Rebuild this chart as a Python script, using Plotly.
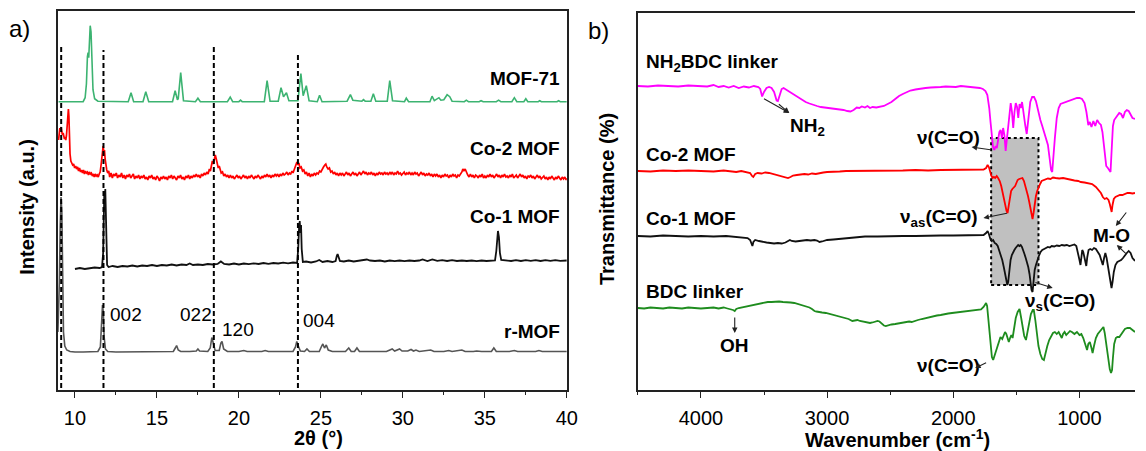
import plotly.graph_objects as go

# ---------------- Panel a: XRD patterns (2theta in degrees, relative intensity) ----------------
MOF71 = [
    (9.0, 0), (10.5, 0), (10.62, 4), (10.7, 18), (10.76, 45), (10.8, 49), (10.84, 44), (10.88, 65),
    (10.93, 76), (10.98, 70), (11.03, 40), (11.1, 12), (11.2, 3), (11.4, 0.5), (13.25, 0), (13.42, 9),
    (13.58, 0), (14.15, 0), (14.32, 10), (14.5, 0), (15.95, 0), (16.11, 11), (16.25, 2), (16.3, 3),
    (16.45, 29), (16.62, 1), (17.35, 0), (17.5, 3.5), (17.65, 0), (19.3, 0), (19.47, 4.5), (19.62, 0),
    (20.0, 0), (20.1, 1.5), (20.2, 0), (21.55, 0), (21.72, 21), (21.9, 0.5), (22.4, 0.5), (22.57, 14),
    (22.72, 5), (22.9, 9), (23.05, 1), (23.6, 1), (23.78, 28), (23.92, 6), (24.11, 16), (24.28, 1),
    (24.78, 0), (24.92, 6.5), (25.07, 0), (26.6, 0.5), (26.8, 7), (26.95, 1.5), (27.5, 0.5), (27.6, 2),
    (27.7, 0.5), (28.05, 0.5), (28.2, 8), (28.35, 0.5), (29.05, 0.5), (29.2, 21), (29.37, 1), (30.1, 0),
    (30.21, 3.5), (30.35, 0), (31.65, 0), (31.78, 5.5), (31.92, 1), (32.2, 4), (32.32, 1.5), (32.5, 2),
    (32.7, 7), (32.86, 5), (33.0, 0.5), (33.75, 0), (33.87, 1.5), (34.0, 0), (34.65, 0), (34.77, 1),
    (34.9, 0), (35.7, 0), (35.84, 1.5), (35.98, 0), (36.65, 0), (36.8, 4), (36.95, 0), (37.38, 0),
    (37.5, 3), (37.62, 0), (38.25, 0), (38.35, 1), (38.45, 0), (39.4, 0), (39.5, 1), (39.6, 0), (40.0, 0),
]

CO2_XRD = [
    (9.0, 36), (9.04, 44), (9.08, 48), (9.12, 46), (9.16, 49), (9.2, 44), (9.24, 41), (9.28, 43),
    (9.32, 38), (9.36, 37), (9.4, 39), (9.44, 36), (9.48, 40), (9.52, 47), (9.56, 60), (9.6, 67),
    (9.63, 60), (9.66, 38), (9.7, 22), (9.75, 15), (9.8, 13), (9.86, 11), (9.92, 12), (9.98, 8),
    (10.04, 10), (10.1, 7), (10.16, 9), (10.22, 5), (10.28, 8), (10.34, 4), (10.4, 6), (10.46, 3),
    (10.52, 6), (10.58, 2), (10.64, 5), (10.7, 3), (10.76, 4), (10.82, 1), (10.88, 4), (10.94, 2),
    (11.0, 3), (11.06, 0), (11.12, 2), (11.18, -1), (11.24, 2), (11.3, 0), (11.36, 1), (11.42, -1),
    (11.48, 2), (11.54, 4), (11.6, 12), (11.64, 20), (11.68, 28), (11.72, 30), (11.76, 24), (11.8, 26),
    (11.84, 17), (11.88, 10), (11.94, 6), (12.0, 3), (12.06, 5), (12.12, -1), (12.2, 3), (12.28, -2),
    (12.36, 2), (12.44, 0), (12.52, 3), (12.6, -2), (12.68, 1), (12.76, -1), (12.84, 3), (12.92, -2),
    (13.0, 1), (13.08, -3), (13.16, 1), (13.24, -1), (13.32, 2), (13.4, -2), (13.48, 0), (13.56, 2),
    (13.64, -3), (13.72, 0), (13.8, -2), (13.88, 1), (13.96, -3), (14.04, 0), (14.12, -2), (14.2, 1),
    (14.28, -3), (14.36, -1), (14.44, -4), (14.52, 0), (14.6, -2), (14.68, 1), (14.76, -3), (14.84, -1),
    (14.92, -4), (15.0, 0), (15.08, -2), (15.16, -5), (15.24, -1), (15.32, -3), (15.4, 0), (15.48, -3),
    (15.56, -1), (15.64, -4), (15.72, 0), (15.8, -2), (15.88, 1), (15.96, -3), (16.04, 0), (16.12, -2),
    (16.2, -4), (16.28, 0), (16.36, -2), (16.44, 1), (16.52, -3), (16.6, -1), (16.68, -4), (16.76, 0),
    (16.84, -2), (16.92, 1), (17.0, -3), (17.08, 0), (17.16, -2), (17.24, 1), (17.32, -1), (17.4, 2),
    (17.48, -1), (17.56, 1), (17.64, -2), (17.72, 2), (17.8, 0), (17.88, 3), (17.96, 1), (18.04, 4),
    (18.12, 2), (18.2, 7), (18.26, 5), (18.32, 10), (18.38, 15), (18.44, 12), (18.5, 19), (18.56, 21),
    (18.62, 17), (18.68, 13), (18.74, 8), (18.8, 10), (18.86, 5), (18.92, 3), (19.0, 4), (19.08, 0),
    (19.16, 2), (19.24, -1), (19.32, 1), (19.4, -2), (19.48, 1), (19.56, -2), (19.64, 0), (19.72, -3),
    (19.8, -1), (19.88, 1), (19.96, -2), (20.04, 0), (20.12, -3), (20.2, -1), (20.28, 1), (20.36, -2),
    (20.44, 0), (20.52, -3), (20.6, 0), (20.68, -2), (20.76, 1), (20.84, -1), (20.92, -3), (21.0, 0),
    (21.08, -2), (21.16, 1), (21.24, -1), (21.32, -3), (21.4, 0), (21.48, -2), (21.56, 1), (21.64, -1),
    (21.72, 2), (21.8, -1), (21.88, 1), (21.96, -2), (22.04, 1), (22.12, -1), (22.2, 2), (22.28, 0),
    (22.36, 2), (22.44, -1), (22.52, 2), (22.6, 0), (22.68, 3), (22.76, 1), (22.84, 2), (22.92, 4),
    (23.0, 1), (23.08, 3), (23.16, 2), (23.24, 5), (23.3, 3), (23.36, 6), (23.42, 9), (23.48, 12),
    (23.54, 14), (23.6, 11), (23.66, 13), (23.72, 8), (23.8, 9), (23.88, 5), (23.96, 6), (24.04, 2),
    (24.12, 4), (24.2, 0), (24.28, 3), (24.36, -1), (24.44, 2), (24.52, 0), (24.6, 3), (24.68, 1),
    (24.76, 3), (24.84, 2), (24.92, 5), (25.0, 4), (25.08, 7), (25.16, 9), (25.24, 11), (25.3, 12),
    (25.36, 9), (25.44, 7), (25.52, 8), (25.6, 4), (25.68, 5), (25.76, 2), (25.84, 4), (25.92, 1),
    (26.0, 3), (26.08, 0), (26.16, 3), (26.24, 1), (26.32, 3), (26.4, 0), (26.48, 2), (26.56, 4),
    (26.64, 1), (26.72, 3), (26.8, 0), (26.88, 2), (26.96, 4), (27.04, 1), (27.12, 3), (27.2, 0),
    (27.28, 2), (27.36, 4), (27.44, 1), (27.52, 3), (27.6, 5), (27.68, 2), (27.76, 4), (27.84, 1),
    (27.92, 3), (28.0, 2), (28.08, 4), (28.16, 1), (28.24, 3), (28.32, 0), (28.4, 3), (28.48, 1),
    (28.56, 4), (28.64, 2), (28.72, 3), (28.8, 1), (28.88, 4), (28.96, 2), (29.04, 3), (29.12, 1),
    (29.2, 4), (29.28, 2), (29.36, 4), (29.44, 1), (29.52, 3), (29.6, 2), (29.68, 5), (29.76, 2),
    (29.84, 3), (29.92, 1), (30.0, 3), (30.08, 4), (30.16, 1), (30.24, 3), (30.32, 2), (30.4, 4),
    (30.48, 1), (30.56, 3), (30.64, 1), (30.72, 4), (30.8, 2), (30.88, 3), (30.96, 0), (31.04, 2),
    (31.12, 4), (31.2, 1), (31.28, 3), (31.36, 0), (31.44, 2), (31.52, 1), (31.6, 3), (31.68, 0),
    (31.76, 2), (31.84, -1), (31.92, 2), (32.0, 0), (32.08, 2), (32.16, -1), (32.24, 1), (32.32, -2),
    (32.4, 1), (32.48, -1), (32.56, 2), (32.64, 0), (32.72, 1), (32.8, -2), (32.88, 1), (32.96, -1),
    (33.04, 2), (33.12, 0), (33.2, 1), (33.28, -2), (33.36, 1), (33.44, 0), (33.52, 2), (33.6, 4),
    (33.66, 7), (33.72, 5), (33.8, 7), (33.88, 3), (33.96, 1), (34.04, -1), (34.12, 2), (34.2, -1),
    (34.28, 1), (34.36, -2), (34.44, 1), (34.52, 0), (34.6, -2), (34.68, 1), (34.76, -1), (34.84, 2),
    (34.92, -2), (35.0, 0), (35.08, -2), (35.16, 1), (35.24, -1), (35.32, 2), (35.4, -1), (35.48, 1),
    (35.56, -2), (35.64, 0), (35.72, 2), (35.8, -1), (35.88, 1), (35.96, -2), (36.04, 1), (36.12, -1),
    (36.2, 2), (36.28, -1), (36.36, 0), (36.44, -2), (36.52, 1), (36.6, -1), (36.68, 2), (36.76, -2),
    (36.84, 0), (36.92, 1), (37.0, -2), (37.08, 0), (37.16, 2), (37.24, -1), (37.32, 1), (37.4, -2),
    (37.48, 0), (37.56, -3), (37.64, 0), (37.72, -1), (37.8, 1), (37.88, -2), (37.96, 0), (38.04, -3),
    (38.12, -1), (38.2, 1), (38.28, -2), (38.36, 0), (38.44, -3), (38.52, -1), (38.6, 0), (38.68, -3),
    (38.76, -1), (38.84, -4), (38.92, -1), (39.0, -3), (39.08, 0), (39.16, -2), (39.24, -4), (39.32, -1),
    (39.4, -3), (39.48, 0), (39.56, -2), (39.64, -4), (39.72, -1), (39.8, -3), (39.88, -1), (39.96, -4),
    (40.0, -2),
]

CO1_XRD = [
    (10.0, -6), (10.3, -5), (10.6, -6), (10.9, -5), (11.2, -4.5), (11.5, -5), (11.65, -4), (11.72, 10),
    (11.76, 45), (11.79, 72), (11.82, 60), (11.85, 74), (11.88, 50), (11.91, 12), (11.96, -2), (12.05, -4),
    (12.3, -3), (12.6, -4), (12.9, -3), (13.2, -3.5), (13.5, -2.5), (13.8, -3.5), (14.1, -2.5), (14.4, -3),
    (14.7, -2), (15.0, -3), (15.3, -2), (15.6, -2.5), (15.9, -1.5), (16.2, -2.5), (16.5, -1.5), (16.8, -2),
    (17.0, -0.5), (17.2, -2), (17.5, -1.5), (17.8, -2), (18.1, -1), (18.4, -1.5), (18.7, -1), (18.9, 1.5),
    (19.1, -1), (19.4, -1.5), (19.7, -0.5), (20.0, -1.5), (20.3, -0.5), (20.6, -1.2), (20.9, -0.3),
    (21.2, -1), (21.5, 0), (21.8, -0.8), (22.1, 0), (22.4, -0.5), (22.7, 0.3), (23.0, -0.3), (23.3, 0.5),
    (23.55, 0), (23.62, 15), (23.67, 36), (23.71, 42), (23.75, 30), (23.79, 38), (23.83, 14), (23.9, 1),
    (24.1, 1.5), (24.4, 0.5), (24.7, 1.5), (24.9, 3), (25.1, 1), (25.4, 2), (25.7, 1), (25.9, 2),
    (25.97, 7), (26.02, 9), (26.08, 6), (26.16, 2), (26.4, 1.5), (26.7, 2.5), (27.0, 1.5), (27.3, 2),
    (27.6, 2.5), (27.8, 3.5), (28.0, 2.5), (28.3, 2), (28.6, 2.5), (28.9, 1.5), (29.2, 2.5), (29.5, 1.8),
    (29.8, 2.5), (30.1, 1.8), (30.4, 2.5), (30.7, 2), (31.0, 2.5), (31.2, 3.5), (31.5, 2), (31.8, 3.5),
    (32.1, 2.2), (32.4, 2.8), (32.7, 2), (33.0, 2.8), (33.3, 2), (33.6, 2.5), (33.9, 2), (34.2, 2.5),
    (34.5, 1.8), (34.8, 2.5), (35.1, 2), (35.4, 2.5), (35.62, 2.5), (35.7, 12), (35.76, 28), (35.8, 32),
    (35.86, 26), (35.92, 10), (36.0, 3), (36.3, 2.5), (36.6, 2), (36.9, 2.8), (37.2, 2), (37.5, 2.8),
    (37.8, 2.2), (38.1, 2.8), (38.4, 2), (38.7, 2.8), (39.0, 2.2), (39.3, 2.8), (39.6, 2.2), (40.0, 2.5),
]

RMOF_XRD = [
    (8.96, 20), (9.05, 70), (9.1, 125), (9.15, 155), (9.2, 140), (9.25, 65), (9.3, 20), (9.38, 6),
    (9.5, 2), (9.7, 0.5), (10.0, 0), (10.5, 0), (11.0, 0), (11.4, 0.5), (11.55, 5), (11.63, 25),
    (11.68, 47), (11.73, 40), (11.78, 15), (11.86, 3), (12.0, 0.5), (12.5, 0), (13.0, 0), (13.5, 0),
    (14.0, 0), (14.6, 0.5), (15.2, 0.5), (16.0, 0.5), (16.12, 4), (16.2, 6.5), (16.3, 2), (16.45, 0.5),
    (17.0, 0.5), (17.4, 1), (17.5, 3), (17.6, 1), (18.1, 0.5), (18.25, 4), (18.35, 14.5), (18.45, 8),
    (18.55, 1.5), (18.8, 1.5), (18.9, 9), (18.97, 10.5), (19.07, 3), (19.3, 0.5), (20.0, 0.5),
    (20.3, 1.5), (20.5, 0.5), (21.4, 0.5), (21.6, 1.5), (21.8, 0.5), (23.3, 0.5), (23.45, 5),
    (23.53, 10.5), (23.62, 6), (23.75, 1), (24.0, 0.5), (24.15, 3), (24.3, 0.5), (24.9, 0.5), (25.05, 6),
    (25.12, 8), (25.22, 4), (25.33, 7), (25.45, 2), (25.7, 0.5), (26.5, 0.5), (26.7, 4), (26.85, 0.5),
    (27.05, 0.5), (27.2, 4), (27.35, 0.5), (28.5, 0.5), (29.0, 0.5), (29.35, 3), (29.5, 1), (29.8, 3),
    (29.95, 1), (30.3, 1), (30.5, 2.5), (30.65, 1), (30.8, 2), (31.0, 0.5), (31.7, 2), (31.9, 0.5),
    (32.5, 0.5), (32.8, 1.5), (33.0, 0.5), (33.6, 2), (33.8, 0.5), (34.3, 0.5), (34.5, 1), (34.8, 0.5),
    (35.4, 0.5), (35.55, 4), (35.7, 0.5), (36.5, 0.5), (36.8, 1.5), (37.0, 0.5), (38.1, 0.5), (38.3, 1.5),
    (38.5, 0.5), (39.3, 0.5), (40.0, 0.5),
]

# reference reflections marked by dashed guides, and the Miller indices shown (2theta, height above r-MOF baseline)
GUIDE_TTH = [9.16, 11.74, 18.47, 23.6]
GUIDE_TOP = [343, 340, 343, 338]
HKL_LABELS = [("002", 12.0, 38), ("022", 16.27, 38), ("120", 18.85, 23), ("004", 23.78, 32)]

# stacking offsets of the XRD patterns
XRD_OFFSET = {"MOF-71": 288.3, "Co-2 MOF": 214, "Co-1 MOF": 127, "r-MOF": 38}

# ---------------- Panel b: FTIR spectra (wavenumber, absorption depth below plateau) ----------------
NH2BDC_IR = [
    (4500, 0), (4420, 0.5), (4340, -0.5), (4260, 0), (4180, 0.5), (4100, -0.5), (4020, 0), (3950, 0.5),
    (3900, -1), (3860, 1), (3820, 0), (3780, 1.5), (3740, 0), (3700, 2), (3660, 0.5), (3620, 1.5),
    (3580, 0), (3545, 1), (3530, 3), (3515, 10.5), (3500, 6), (3480, 2), (3460, 1), (3440, 2), (3420, 6),
    (3400, 14.5), (3390, 15), (3378, 10), (3360, 3), (3345, 2), (3320, 4), (3290, 7), (3260, 9),
    (3230, 12), (3200, 14), (3170, 16), (3140, 17.5), (3110, 19), (3080, 20), (3050, 21), (3020, 21.5),
    (2990, 22), (2960, 22), (2930, 23), (2900, 23.5), (2870, 24), (2840, 25), (2815, 25.5), (2790, 24),
    (2765, 21.5), (2745, 22), (2725, 20.5), (2700, 21.5), (2680, 20), (2660, 22), (2640, 21),
    (2610, 21.5), (2580, 21), (2550, 20), (2520, 18), (2490, 16), (2460, 13), (2430, 10), (2400, 8),
    (2370, 6), (2340, 4.5), (2300, 3.5), (2260, 2.5), (2220, 2), (2180, 1.5), (2140, 1.5), (2100, 1),
    (2060, 0.5), (2020, 0.5), (1980, 1), (1940, 0), (1900, 0.5), (1860, 1), (1820, 1.5), (1790, 2),
    (1765, 3), (1745, 5), (1730, 9), (1715, 22), (1705, 36), (1695, 52), (1685, 61), (1675, 64),
    (1665, 60), (1655, 62), (1645, 55), (1635, 46), (1625, 44), (1615, 52), (1605, 42), (1595, 49),
    (1585, 65), (1575, 52), (1565, 36), (1555, 29), (1545, 17), (1535, 26), (1525, 42), (1515, 26),
    (1505, 17), (1495, 21), (1485, 32), (1475, 18), (1465, 22), (1455, 16), (1445, 27), (1430, 39),
    (1418, 48), (1405, 34), (1390, 16), (1375, 11), (1360, 11), (1345, 15), (1330, 24), (1310, 34),
    (1295, 40), (1280, 46), (1265, 53), (1250, 59), (1240, 69), (1232, 80), (1225, 84), (1216, 86),
    (1205, 64), (1195, 52), (1180, 32), (1165, 22), (1150, 18), (1130, 17), (1110, 16), (1090, 15),
    (1065, 14), (1040, 13), (1020, 12), (1000, 12), (980, 13), (960, 17), (945, 26), (930, 39),
    (918, 36), (905, 41), (890, 35), (875, 40), (860, 34), (845, 37), (830, 39), (818, 46), (808, 59),
    (798, 74), (788, 80), (775, 82), (762, 84), (754, 86), (745, 64), (735, 40), (725, 34), (712, 32),
    (700, 29), (685, 27), (670, 28), (655, 32), (640, 26), (625, 24), (610, 25), (595, 29), (580, 32),
    (560, 33),
]

CO2_IR = [
    (4500, 0), (4400, 0.5), (4300, -0.5), (4200, 0), (4100, -0.5), (4000, 0), (3900, 0.5), (3820, -0.5),
    (3760, 0), (3720, 1), (3680, 0), (3640, 1.5), (3610, 2), (3595, 5), (3585, 6), (3570, 3), (3550, 2),
    (3520, 2.5), (3490, 1.5), (3460, 2), (3430, 3), (3400, 4), (3370, 5), (3340, 5.5), (3310, 7),
    (3290, 6), (3270, 4.5), (3240, 4), (3210, 3.5), (3180, 3), (3150, 3.5), (3120, 2.5), (3090, 3),
    (3060, 2), (3030, 1.5), (3000, 1), (2950, 1), (2900, 0.5), (2850, 0), (2800, 0), (2700, -0.5),
    (2600, 0), (2500, -0.5), (2400, -0.5), (2300, -1), (2200, -0.5), (2100, -1), (2000, -1), (1900, -1),
    (1800, -1), (1760, -1.5), (1740, -3), (1728, -6), (1718, -4), (1708, 1), (1698, 5), (1688, 7),
    (1678, 6), (1668, 7), (1656, 5), (1645, 7), (1632, 10), (1620, 15), (1610, 21), (1598, 29),
    (1588, 34), (1578, 40), (1570, 42), (1562, 35), (1552, 24), (1542, 20), (1532, 18), (1520, 16),
    (1510, 15), (1500, 12), (1490, 9), (1478, 8), (1465, 7.5), (1452, 7), (1440, 10), (1428, 15),
    (1418, 20), (1408, 25), (1398, 31), (1388, 38), (1380, 44), (1372, 48), (1364, 42), (1355, 32),
    (1345, 25), (1335, 20), (1325, 16), (1312, 13), (1300, 10), (1285, 9), (1270, 8), (1250, 7.5),
    (1230, 8), (1210, 6.5), (1190, 7), (1160, 7.5), (1130, 7), (1100, 8), (1070, 9), (1040, 9.5),
    (1010, 10), (990, 11), (960, 11.5), (930, 12), (900, 13), (870, 16), (850, 19), (830, 22), (815, 26),
    (800, 28), (785, 27), (770, 29), (760, 33), (752, 40), (745, 41), (738, 34), (728, 28), (715, 26),
    (700, 25), (680, 24), (660, 24), (640, 23), (620, 22), (600, 22), (580, 22.5), (560, 22),
]

CO1_IR = [
    (4500, 0), (4400, 0.5), (4300, -0.5), (4200, 0), (4100, 0.5), (4000, 0), (3900, 0.5), (3800, 0),
    (3740, 0.5), (3700, 1), (3660, 1.5), (3630, 2), (3610, 4), (3600, 8), (3592, 10), (3584, 6),
    (3570, 4), (3540, 5), (3510, 6), (3480, 6.5), (3450, 7), (3420, 7.5), (3390, 7), (3360, 7.5),
    (3330, 6.5), (3310, 5), (3295, 4), (3280, 5), (3250, 5.5), (3220, 5), (3190, 4.5), (3160, 4),
    (3130, 4.5), (3100, 4), (3080, 4.5), (3060, 6), (3040, 5.5), (3020, 4.5), (3000, 4), (2950, 3.5),
    (2900, 3), (2850, 2.5), (2800, 1.5), (2750, 1), (2700, 0.5), (2600, 0.5), (2500, 0), (2400, 0),
    (2300, 0), (2200, -0.5), (2100, -0.5), (2000, -0.5), (1900, -0.5), (1800, -0.5), (1760, -1),
    (1740, -3), (1728, -5), (1718, -2), (1706, 3), (1695, 5), (1684, 4), (1672, 7), (1660, 8),
    (1648, 10), (1636, 14), (1624, 18), (1612, 24), (1600, 31), (1590, 38), (1580, 45), (1572, 49),
    (1565, 46), (1556, 34), (1546, 24), (1536, 19), (1526, 16), (1516, 14), (1506, 12), (1496, 10),
    (1486, 9), (1476, 10), (1466, 9), (1456, 11), (1446, 14), (1436, 18), (1426, 22), (1416, 26),
    (1406, 31), (1396, 38), (1388, 47), (1380, 54), (1372, 56), (1364, 46), (1355, 34), (1345, 29),
    (1335, 24), (1322, 20), (1308, 16), (1295, 14), (1280, 13), (1265, 12), (1250, 11), (1235, 11.5),
    (1220, 10), (1200, 10.5), (1180, 9.5), (1160, 10), (1140, 9), (1120, 9.5), (1100, 9), (1080, 10),
    (1060, 9), (1040, 8.5), (1025, 10), (1012, 16), (1000, 24), (992, 29), (985, 22), (978, 14),
    (970, 16), (962, 22), (955, 26), (946, 30), (938, 21), (928, 14), (915, 13), (900, 14), (885, 12),
    (870, 13), (855, 16), (840, 19), (825, 25), (815, 29), (805, 22), (795, 17), (785, 22), (775, 30),
    (765, 39), (755, 47), (746, 52), (738, 46), (728, 36), (715, 29), (700, 26), (685, 25), (670, 24),
    (655, 22), (640, 19), (625, 17), (610, 15), (595, 17), (580, 22), (560, 25),
]

BDC_IR = [
    (4500, 0), (4450, 0.5), (4400, -0.5), (4350, 0), (4300, 0.5), (4250, -0.5), (4200, 0), (4150, 0.5),
    (4100, -0.5), (4050, 0), (4000, 0.5), (3950, 0), (3900, -0.5), (3860, 0.5), (3820, -0.5), (3790, 0.5),
    (3760, 1), (3745, 2), (3732, 3), (3720, 1), (3700, 0), (3680, -0.5), (3650, -1.5), (3620, -2),
    (3590, -3), (3560, -4), (3530, -5), (3500, -5.5), (3470, -6), (3440, -6), (3410, -6.5), (3380, -6.5),
    (3350, -6), (3320, -6), (3290, -5.5), (3260, -5), (3230, -4), (3200, -3), (3170, -2), (3140, -0.5),
    (3120, 1), (3100, 3), (3085, 3.5), (3070, 4), (3040, 4.5), (3010, 5), (2980, 6), (2950, 7),
    (2920, 8), (2890, 8.5), (2860, 10), (2830, 11), (2800, 13), (2780, 12.5), (2760, 12), (2740, 13),
    (2720, 13.5), (2700, 14), (2680, 14.5), (2660, 15), (2640, 14.5), (2620, 14), (2600, 13),
    (2585, 13.5), (2565, 16), (2550, 17.5), (2535, 18), (2515, 17), (2490, 16.5), (2460, 16),
    (2430, 15.5), (2400, 15), (2370, 14), (2350, 13.5), (2330, 14), (2310, 13), (2280, 12), (2250, 11),
    (2220, 10), (2190, 9), (2160, 8), (2130, 7.5), (2100, 7), (2070, 6), (2040, 5.5), (2010, 5),
    (1980, 4.5), (1950, 4), (1920, 3.5), (1890, 3), (1860, 2.5), (1830, 2.5), (1800, 2), (1780, 1.5),
    (1760, -1), (1748, -4), (1740, -5), (1732, -2), (1724, 10), (1714, 26), (1704, 40), (1694, 49),
    (1684, 52), (1674, 48), (1662, 42), (1650, 37), (1638, 33), (1626, 29), (1612, 31), (1600, 28),
    (1590, 24), (1580, 26), (1570, 30), (1560, 34), (1550, 30), (1540, 27), (1530, 30), (1520, 20),
    (1505, 10), (1490, 4), (1475, 1), (1462, 10), (1450, 20), (1438, 28), (1424, 32), (1412, 24),
    (1398, 14), (1385, 6), (1370, 2), (1362, 2), (1350, 12), (1338, 25), (1325, 38), (1310, 46),
    (1295, 51), (1282, 52), (1270, 45), (1255, 38), (1240, 32), (1225, 28), (1210, 25), (1195, 24),
    (1180, 26), (1165, 24), (1150, 27), (1140, 30), (1130, 26), (1118, 24), (1105, 27), (1090, 25),
    (1075, 23), (1060, 24), (1040, 26), (1020, 24), (1000, 27), (985, 26), (970, 30), (955, 36),
    (940, 42), (930, 36), (918, 34), (905, 40), (896, 45), (885, 38), (870, 30), (855, 26), (840, 24),
    (825, 21), (810, 19), (800, 25), (790, 35), (780, 46), (770, 55), (760, 61), (750, 65), (742, 62),
    (735, 50), (725, 36), (712, 30), (700, 29), (684, 29), (670, 26), (655, 23), (640, 21), (620, 20),
    (600, 20), (580, 22), (560, 24),
]

# plateau level of each spectrum in the stack
IR_OFFSET = {"NH2BDC linker": 304, "Co-2 MOF": 219, "Co-1 MOF": 154, "BDC linker": 82}
# carboxylate stretching region highlighted by the grey box (cm-1) and its vertical extent
CARBOXYLATE_BAND = (1700, 1325)
CARBOXYLATE_SPAN = (105, 252)

W, H = 1146, 451
FONT = "Liberation Sans, Arial, sans-serif"


def xp(v):
    return v / W


def yp(v):
    return 1 - v / H


def unzip(pairs):
    return [p[0] for p in pairs], [p[1] for p in pairs]


fig = go.Figure()

# XRD traces (peaks up)
for name, pairs, color, width in [
    ("MOF-71", MOF71, "#3cb371", 1.6),
    ("Co-2 MOF", CO2_XRD, "#ff0000", 1.7),
    ("Co-1 MOF", CO1_XRD, "#111111", 1.8),
    ("r-MOF", RMOF_XRD, "#555555", 1.6),
]:
    tth, inten = unzip(pairs)
    fig.add_trace(go.Scatter(
        x=tth, y=[XRD_OFFSET[name] + v for v in inten], mode="lines", name=name,
        line=dict(color=color, width=width), xaxis="x", yaxis="y", showlegend=False,
    ))

# FTIR traces (bands down)
for name, pairs, color in [
    ("NH2BDC linker", NH2BDC_IR, "#ff00ff"),
    ("Co-2 MOF", CO2_IR, "#ff0000"),
    ("Co-1 MOF", CO1_IR, "#111111"),
    ("BDC linker", BDC_IR, "#1e8c1e"),
]:
    wn, depth = unzip(pairs)
    fig.add_trace(go.Scatter(
        x=wn, y=[IR_OFFSET[name] - v for v in depth], mode="lines", name=name,
        line=dict(color=color, width=1.8), xaxis="x2", yaxis="y2", showlegend=False,
    ))

shapes = []
for t, top in zip(GUIDE_TTH, GUIDE_TOP):
    shapes.append(dict(type="line", xref="x", yref="y", x0=t, x1=t, y0=2, y1=top,
                       line=dict(color="black", width=2, dash="5px,3px")))
shapes.append(dict(type="rect", xref="x2", yref="y2",
                   x0=CARBOXYLATE_BAND[0], x1=CARBOXYLATE_BAND[1],
                   y0=CARBOXYLATE_SPAN[0], y1=CARBOXYLATE_SPAN[1],
                   fillcolor="#c0c0c0", line=dict(color="black", width=2, dash="dot"), layer="below"))

ann = []


def label(text, x, y, size=19, xanchor="left", bold=True, angle=0):
    ann.append(dict(text=f"<b>{text}</b>" if bold else text, x=xp(x), y=yp(y), xref="paper", yref="paper",
                    xanchor=xanchor, yanchor="middle", showarrow=False, textangle=angle,
                    font=dict(family=FONT, size=size, color="black")))


# panel letters
label("a)", 7, 28, size=24, bold=False)
label("b)", 592, 30, size=24, bold=False)

# panel a labels
label("MOF-71", 567, 78, xanchor="right")
label("Co-2 MOF", 567, 149, xanchor="right")
label("Co-1 MOF", 567, 216, xanchor="right")
label("r-MOF", 567, 331, xanchor="right")
for text, t, level in HKL_LABELS:
    ann.append(dict(text=text, x=t, y=XRD_OFFSET["r-MOF"] + level, xref="x", yref="y",
                    xanchor="left", yanchor="middle", showarrow=False,
                    font=dict(family=FONT, size=19, color="black")))
label("Intensity (a.u.)", 27, 207, size=20, xanchor="center", angle=-90)
label("2θ (°)", 322, 438, size=20, xanchor="center")

# panel b labels
label("NH<sub>2</sub>BDC linker", 650, 63)
label("Co-2 MOF", 650, 154)
label("Co-1 MOF", 650, 218)
label("BDC linker", 650, 291)
label("Transmittance (%)", 613, 199, size=20, xanchor="center", angle=-90)
label("Wavenumber (cm<sup>-1</sup>)", 906, 438, size=20, xanchor="center")
label("NH<sub>2</sub>", 815, 127, xanchor="center")
label("ν(C=O)", 958, 138, xanchor="center")
label("ν<sub>as</sub>(C=O)", 948, 218, xanchor="center")
label("M-O", 1122, 235, xanchor="center")
label("ν<sub>s</sub>(C=O)", 1070, 302, xanchor="center")
label("OH", 742, 345, xanchor="center")
label("ν(C=O)", 958, 365, xanchor="center")


def arrow(head, tail):
    # head/tail given as (wavenumber, stacked transmittance)
    ann.append(dict(x=head[0], y=head[1], ax=tail[0], ay=tail[1], xref="x2", yref="y2",
                    axref="x2", ayref="y2", text="", showarrow=True, arrowhead=2, arrowsize=1,
                    arrowwidth=1.1, arrowcolor="#222222"))


arrow((3300, 277), (3512, 292))
arrow((3300, 277), (3394, 287))
arrow((1855, 243), (1694, 240))
arrow((1761, 172), (1563, 177))
arrow((1212, 102), (1361, 108))
arrow((3732, 57), (3732, 74))
arrow((1827, 22), (1728, 28))
arrow((712, 164), (620, 179))
arrow((704, 145), (620, 135))

axis_common = dict(showline=True, linecolor="#222222", linewidth=1.5, showgrid=False, zeroline=False,
                   tickfont=dict(family=FONT, size=20, color="black"))

fig.update_layout(
    width=W, height=H, margin=dict(l=0, r=0, t=0, b=0),
    paper_bgcolor="white", plot_bgcolor="white", showlegend=False,
    shapes=shapes, annotations=ann,
    xaxis=dict(domain=[58.3 / W, 572.3 / W], range=[8.95, 40.0], mirror=True, ticks="outside",
               ticklen=6, tickwidth=1.3, tickcolor="#222222", dtick=5, tick0=0,
               minor=dict(ticks="outside", ticklen=3.5, dtick=2.5, tick0=0, tickcolor="#222222", tickwidth=1.3),
               ticklabelstandoff=3, anchor="y", **axis_common),
    yaxis=dict(domain=[yp(390), yp(11)], range=[0, 379], mirror=True, ticks="", showticklabels=False,
               anchor="x", **axis_common),
    xaxis2=dict(domain=[644 / W, 1.0], range=[4500, 560], mirror=True, ticks="outside",
                ticklen=6, tickwidth=1.3, tickcolor="#222222", dtick=1000, tick0=0,
                minor=dict(ticks="outside", ticklen=3.5, dtick=500, tick0=0, tickcolor="#222222", tickwidth=1.3),
                ticklabelstandoff=3, anchor="y2", **axis_common),
    yaxis2=dict(domain=[yp(390), yp(13)], range=[0, 377], mirror=False, ticks="", showticklabels=False,
                anchor="x2", **axis_common),
)

fig.write_html("out.html")
